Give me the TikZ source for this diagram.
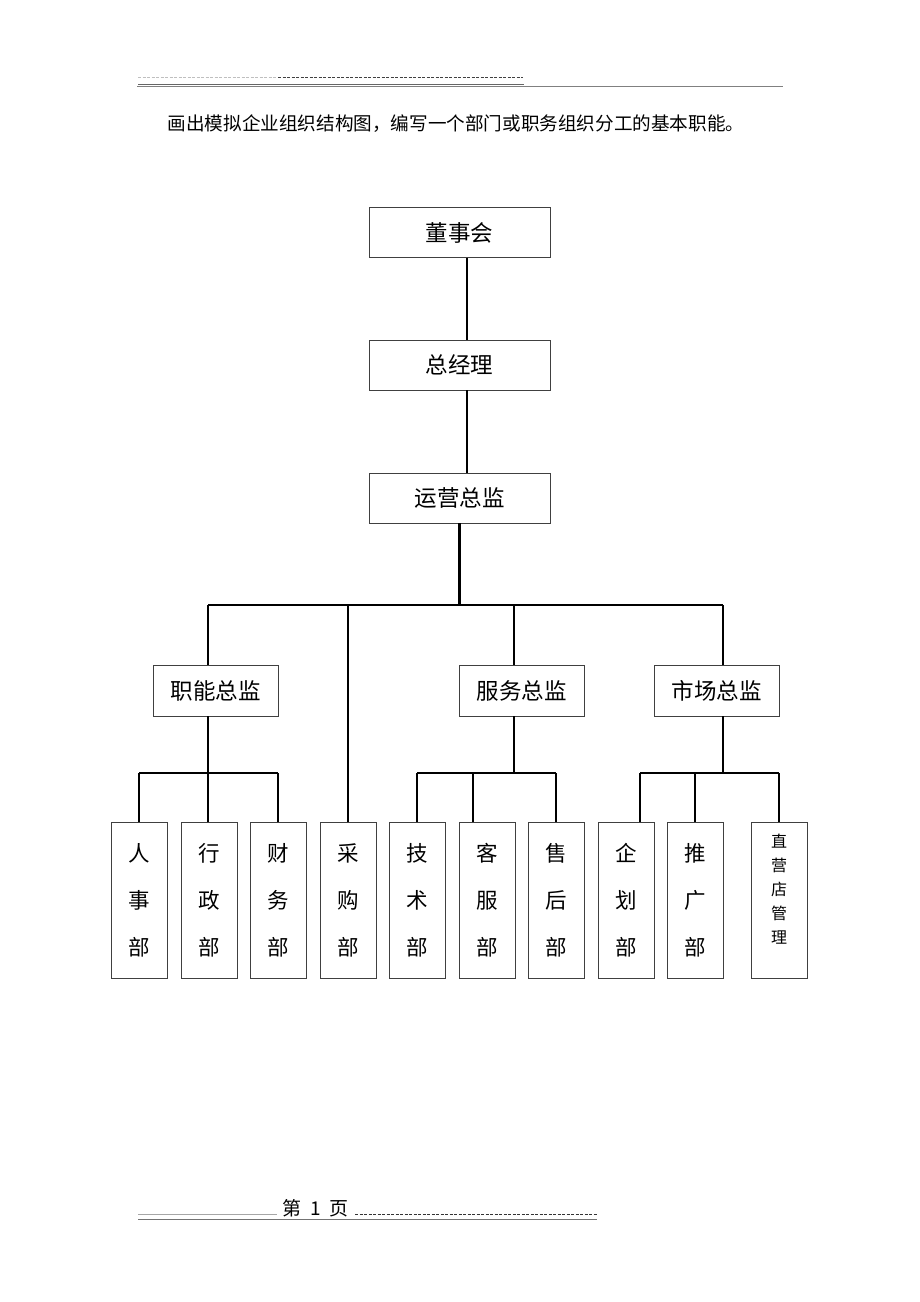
\documentclass[tikz,border=0pt]{standalone}
\usepackage{fontspec}
\newfontfamily\cjk{Noto Sans CJK SC}
\begin{document}
\begin{tikzpicture}[x=1pt,y=-1pt,
  box/.style={draw=black!75,line width=0.9pt,rectangle,inner sep=0pt,font=\cjk\fontsize{22.5}{26}\selectfont},
  midbox/.style={box,minimum width=181pt,minimum height=50pt},
  subbox/.style={box,minimum width=125pt,minimum height=51pt},
  deptbox/.style={box,minimum width=56pt,minimum height=156pt,align=center,font=\cjk\fontsize{21.5}{47}\selectfont},
  conn/.style={draw=black,line width=2.2pt},
  hdr/.style={line width=0.9pt}]
\useasboundingbox (0,0) rectangle (920,1302);
% header
\coordinate (h1) at (138,77);
\coordinate (h2) at (278,77);
\coordinate (h3) at (523,77);
\draw[hdr,black!25,dash pattern=on 3pt off 1.5pt] (h1) -- (h2);
\draw[hdr,black!75,dash pattern=on 3pt off 1.5pt] (h2) -- (h3);
\coordinate (h4) at (138,84);
\coordinate (h5) at (524,84);
\coordinate (h6) at (137,86);
\coordinate (h7) at (783,86);
\draw[black!60,line width=0.8pt] (h4) -- (h5);
\draw[black!50,line width=0.8pt] (h6) -- (h7);
\node[font=\cjk\fontsize{18.6}{20}\selectfont] (title) at (456,124) {画出模拟企业组织结构图，编写一个部门或职务组织分工的基本职能。};
% top chain
\node[midbox] (dsh) at (459.5,232.5) {董事会};
\node[midbox] (zjl) at (459.5,365) {总经理};
\node[midbox] (yy) at (459.5,498) {运营总监};
\draw[conn] ([xshift=7.5pt]dsh.south) -- ([xshift=7.5pt]zjl.north);
\draw[conn] ([xshift=7.5pt]zjl.south) -- ([xshift=7.5pt]yy.north);
% bus
\coordinate (b0) at (459.5,605);
\coordinate (bL) at (208,605);
\coordinate (bC) at (348,605);
\coordinate (bM) at (514,605);
\coordinate (bR) at (723,605);
\draw[conn] (yy.south) -- (b0);
\draw[conn] (bL) -- (bR);
% second level
\node[subbox] (zn) at (215.5,690.5) {职能总监};
\node[subbox] (fw) at (521.5,690.5) {服务总监};
\node[subbox] (sc) at (716.5,690.5) {市场总监};
\draw[conn] (bL) -- (bL |- zn.north);
\draw[conn] (bM) -- (bM |- fw.north);
\draw[conn] (bR) -- (bR |- sc.north);
% departments
\node[deptbox] (rs) at (139,900) {人\\事\\部};
\node[deptbox] (xz) at (209,900) {行\\政\\部};
\node[deptbox] (cw) at (278,900) {财\\务\\部};
\node[deptbox] (cg) at (348,900) {采\\购\\部};
\node[deptbox] (js) at (417,900) {技\\术\\部};
\node[deptbox] (kf) at (487,900) {客\\服\\部};
\node[deptbox] (sh) at (556,900) {售\\后\\部};
\node[deptbox] (qh) at (626,900) {企\\划\\部};
\node[deptbox] (tg) at (695.5,900) {推\\广\\部};
\node[deptbox] (zy) at (779,900) {};
\node[align=center,inner sep=0pt,font=\cjk\fontsize{16}{24}\selectfont] (zyt) at (779,889) {直\\营\\店\\管\\理};
\draw[conn] (bC) -- (cg.north);
% group 1
\coordinate (g1) at (208,773);
\coordinate (g1L) at (139,773);
\coordinate (g1R) at (278,773);
\draw[conn] (g1 |- zn.south) -- (g1);
\draw[conn] (g1L) -- (g1R);
\draw[conn] (g1L) -- (rs.north);
\draw[conn] (g1) -- (g1 |- xz.north);
\draw[conn] (g1R) -- (cw.north);
% group 2
\coordinate (g2) at (514,773);
\coordinate (g2L) at (417,773);
\coordinate (g2M) at (473,773);
\coordinate (g2R) at (556,773);
\draw[conn] (g2 |- fw.south) -- (g2);
\draw[conn] (g2L) -- (g2R);
\draw[conn] (g2L) -- (js.north);
\draw[conn] (g2M) -- (g2M |- kf.north);
\draw[conn] (g2R) -- (sh.north);
% group 3
\coordinate (g3) at (723,773);
\coordinate (g3L) at (640,773);
\coordinate (g3M) at (695,773);
\coordinate (g3R) at (779,773);
\draw[conn] (g3 |- sc.south) -- (g3);
\draw[conn] (g3L) -- (g3R);
\draw[conn] (g3L) -- (g3L |- qh.north);
\draw[conn] (g3M) -- (g3M |- tg.north);
\draw[conn] (g3R) -- (zy.north);
% footer
\coordinate (f1) at (138,1214);
\coordinate (f2) at (277,1214);
\coordinate (f3) at (355,1214);
\coordinate (f4) at (597,1214);
\coordinate (f5) at (138,1219);
\coordinate (f6) at (597,1219);
\draw[black!35,line width=0.6pt] (f1) -- (f2);
\draw[black!80,line width=0.8pt,dash pattern=on 3pt off 1.5pt] (f3) -- (f4);
\draw[black!55,line width=1pt] (f5) -- (f6);
\node[font=\cjk\fontsize{19}{20}\selectfont,inner sep=0pt] (pg) at (315.5,1208) {第\hspace{9pt}1\hspace{9pt}页};
\end{tikzpicture}
\end{document}
